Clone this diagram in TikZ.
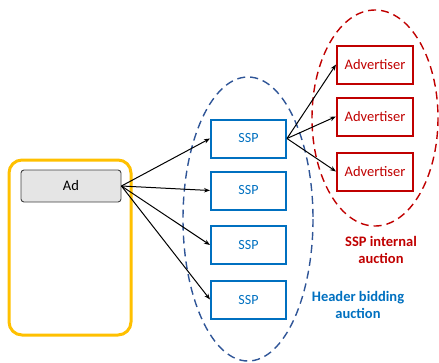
\documentclass[tikz,border=0pt]{standalone}
\usepackage{fontspec}
\setmainfont{Carlito}
\usetikzlibrary{arrows.meta}
\definecolor{gold}{HTML}{FFC000}
\definecolor{sspblue}{HTML}{0070C0}
\definecolor{advred}{HTML}{C00000}
\definecolor{ellblue}{HTML}{2F5597}
\begin{document}
\begin{tikzpicture}[x=1pt,y=-1pt,
  sspbox/.style={draw=sspblue,line width=2pt,minimum width=75pt,minimum height=38pt,text=sspblue,font=\fontsize{14}{16}\selectfont,inner sep=0pt},
  advbox/.style={draw=advred,line width=2pt,minimum width=76pt,minimum height=38pt,text=advred,font=\fontsize{14.5}{16}\selectfont,inner sep=0pt},
  conn/.style={-{Stealth[length=6pt,width=4.5pt]},line width=1pt,black},
  ell/.style={dashed,dash pattern=on 8pt off 5pt,line width=1.4pt}]
\useasboundingbox (0,0) rectangle (439,362);
\draw[gold,line width=3pt,rounded corners=13pt] (9,160) rectangle (131,335);
\node[draw=black!75,line width=0.9pt,fill=black!10,rounded corners=3pt,minimum width=100pt,minimum height=32pt,inner sep=0pt,font=\fontsize{14.5}{16}\selectfont] (ad) at (71,186) {Ad};
\draw[ell,ellblue] (248,219) ellipse [x radius=65, y radius=142];
\draw[ell,advred] (375,118) ellipse [x radius=63, y radius=108];
\node[sspbox] (s1) at (248.5,138.5) {SSP};
\node[sspbox] (s2) at (248.5,190.5) {SSP};
\node[sspbox] (s3) at (248.5,245) {SSP};
\node[sspbox] (s4) at (248.5,299.5) {SSP};
\node[advbox] (a1) at (375,64.5) {Advertiser};
\node[advbox] (a2) at (375,116.5) {Advertiser};
\node[advbox] (a3) at (375,171.5) {Advertiser};
\foreach \s in {s1,s2,s3,s4} \draw[conn] (ad.east) -- (\s.west);
\foreach \a in {a1,a2,a3} \draw[conn] (s1.east) -- (\a.west);
\node[text=advred,font=\bfseries\fontsize{14.5}{17}\selectfont,align=center] (l1) at (381,249.5) {SSP internal\\auction};
\node[text=sspblue,font=\bfseries\fontsize{14.5}{17}\selectfont,align=center] (l2) at (358,304.5) {Header bidding\\auction};
\end{tikzpicture}
\end{document}
